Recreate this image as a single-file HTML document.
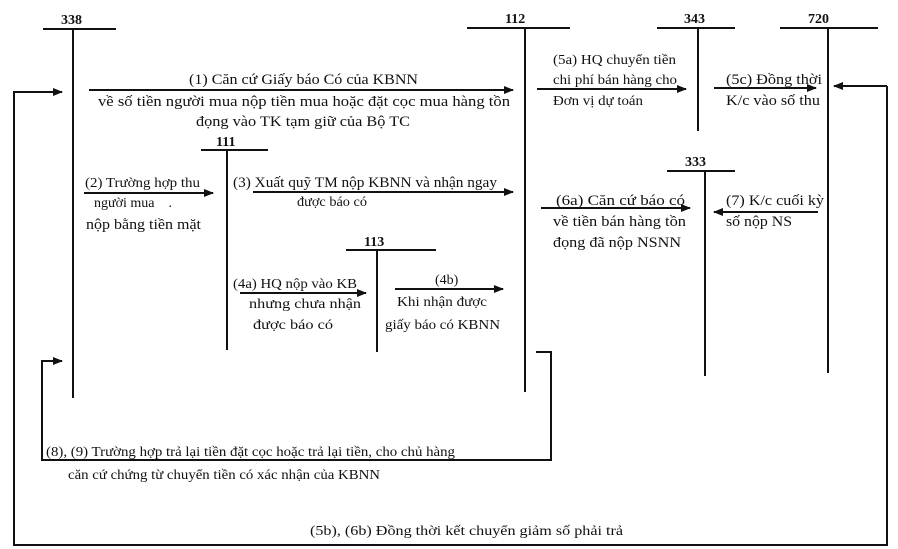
<!DOCTYPE html>
<html><head><meta charset="utf-8"><style>
html,body{margin:0;padding:0;background:#fff;}
svg{display:block;}
text{font-family:"Liberation Serif",serif;fill:#111;}
.t{font-size:15px;}
.s{font-size:14px;}
.b{font-size:14px;font-weight:bold;}
.c{font-size:14px;}
</style></head><body>
<svg width="898" height="549" viewBox="0 0 898 549" xmlns="http://www.w3.org/2000/svg">
<defs><marker id="a" markerWidth="10" markerHeight="8" refX="9" refY="4" orient="auto" markerUnits="userSpaceOnUse"><path d="M0,0 L10,4 L0,8 z" fill="#111"/></marker></defs>
<g stroke="#111" stroke-width="2" fill="none">
<line x1="43" y1="29" x2="116" y2="29"/><line x1="73" y1="29" x2="73" y2="398"/>
<line x1="467" y1="28" x2="570" y2="28"/><line x1="525" y1="28" x2="525" y2="392"/>
<line x1="657" y1="28" x2="735" y2="28"/><line x1="698" y1="28" x2="698" y2="131"/>
<line x1="780" y1="28" x2="878" y2="28"/><line x1="828" y1="28" x2="828" y2="373"/>
<line x1="201" y1="150" x2="268" y2="150"/><line x1="227" y1="150" x2="227" y2="350"/>
<line x1="346" y1="250" x2="436" y2="250"/><line x1="377" y1="250" x2="377" y2="352"/>
<line x1="667" y1="171" x2="735" y2="171"/><line x1="705" y1="171" x2="705" y2="376"/>
<line x1="89" y1="90" x2="513" y2="90" marker-end="url(#a)"/>
<line x1="84" y1="193" x2="213" y2="193" marker-end="url(#a)"/>
<line x1="253" y1="192" x2="513" y2="192" marker-end="url(#a)"/>
<line x1="240" y1="293" x2="366" y2="293" marker-end="url(#a)"/>
<line x1="395" y1="289" x2="503" y2="289" marker-end="url(#a)"/>
<line x1="537" y1="89" x2="686" y2="89" marker-end="url(#a)"/>
<line x1="714" y1="88" x2="816" y2="88" marker-end="url(#a)"/>
<line x1="541" y1="208" x2="690" y2="208" marker-end="url(#a)"/>
<line x1="818" y1="212" x2="714" y2="212" marker-end="url(#a)"/>
<polyline points="887,86 887,545 14,545 14,92 62,92" marker-end="url(#a)"/>
<line x1="887" y1="86" x2="834" y2="86" marker-end="url(#a)"/>
<polyline points="536,352 551,352 551,460 42,460 42,361 62,361" marker-end="url(#a)"/>
</g>
<text class="b" x="61" y="24">338</text>
<text class="b" x="505" y="23">112</text>
<text class="b" x="684" y="23">343</text>
<text class="b" x="808" y="23">720</text>
<text class="b" x="216" y="146">111</text>
<text class="b" x="364" y="246">113</text>
<text class="b" x="685" y="166">333</text>

<text class="t" x="189" y="84" textLength="229" lengthAdjust="spacingAndGlyphs">(1) Căn cứ Giấy báo Có của KBNN</text>
<text class="t" x="98" y="106" textLength="412" lengthAdjust="spacingAndGlyphs">về số tiền người mua nộp tiền mua hoặc đặt cọc mua hàng tồn</text>
<text class="t" x="196" y="126" textLength="214" lengthAdjust="spacingAndGlyphs">đọng vào TK tạm giữ của Bộ TC</text>

<text class="s" x="85" y="187" textLength="115" lengthAdjust="spacingAndGlyphs">(2) Trường hợp thu</text>
<text class="s" x="94" y="207">người mua &#160;&#160;&#160;.</text>
<text class="t" x="86" y="229" textLength="115" lengthAdjust="spacingAndGlyphs">nộp bằng tiền mặt</text>

<text class="t" x="233" y="187" textLength="264" lengthAdjust="spacingAndGlyphs">(3) Xuất quỹ TM nộp KBNN và nhận ngay</text>
<text class="s" x="297" y="206" textLength="70" lengthAdjust="spacingAndGlyphs">được báo có</text>

<text class="s" x="233" y="288" textLength="124" lengthAdjust="spacingAndGlyphs">(4a) HQ nộp vào KB</text>
<text class="s" x="249" y="308" textLength="112" lengthAdjust="spacingAndGlyphs">nhưng chưa nhận</text>
<text class="s" x="253" y="329" textLength="80" lengthAdjust="spacingAndGlyphs">được báo có</text>
<text class="s" x="435" y="284">(4b)</text>
<text class="s" x="397" y="306" textLength="90" lengthAdjust="spacingAndGlyphs">Khi nhận được</text>
<text class="s" x="385" y="329" textLength="115" lengthAdjust="spacingAndGlyphs">giấy báo có KBNN</text>

<text class="s" x="553" y="64" textLength="123" lengthAdjust="spacingAndGlyphs">(5a) HQ chuyển tiền</text>
<text class="s" x="553" y="84" textLength="124" lengthAdjust="spacingAndGlyphs">chi phí bán hàng cho</text>
<text class="s" x="553" y="105" textLength="90" lengthAdjust="spacingAndGlyphs">Đơn vị dự toán</text>

<text class="t" x="726" y="84" textLength="96" lengthAdjust="spacingAndGlyphs">(5c) Đồng thời</text>
<text class="t" x="726" y="105" textLength="94" lengthAdjust="spacingAndGlyphs">K/c vào số thu</text>

<text class="t" x="556" y="205" textLength="129" lengthAdjust="spacingAndGlyphs">(6a) Căn cứ báo có</text>
<text class="t" x="553" y="226" textLength="133" lengthAdjust="spacingAndGlyphs">về tiền bán hàng tồn</text>
<text class="t" x="553" y="247" textLength="128" lengthAdjust="spacingAndGlyphs">đọng đã nộp NSNN</text>

<text class="t" x="726" y="205" textLength="98" lengthAdjust="spacingAndGlyphs">(7) K/c cuối kỳ</text>
<text class="t" x="726" y="226" textLength="66" lengthAdjust="spacingAndGlyphs">số nộp NS</text>

<text class="c" x="46" y="456" textLength="409" lengthAdjust="spacingAndGlyphs">(8), (9) Trường hợp trả lại tiền đặt cọc hoặc trả lại tiền, cho chủ hàng</text>
<text class="c" x="68" y="479" textLength="312" lengthAdjust="spacingAndGlyphs">căn cứ chứng từ chuyển tiền có xác nhận của KBNN</text>
<text class="c" x="310" y="535" textLength="313" lengthAdjust="spacingAndGlyphs">(5b), (6b) Đồng thời kết chuyển giảm số phải trả</text>
</svg>
</body></html>
